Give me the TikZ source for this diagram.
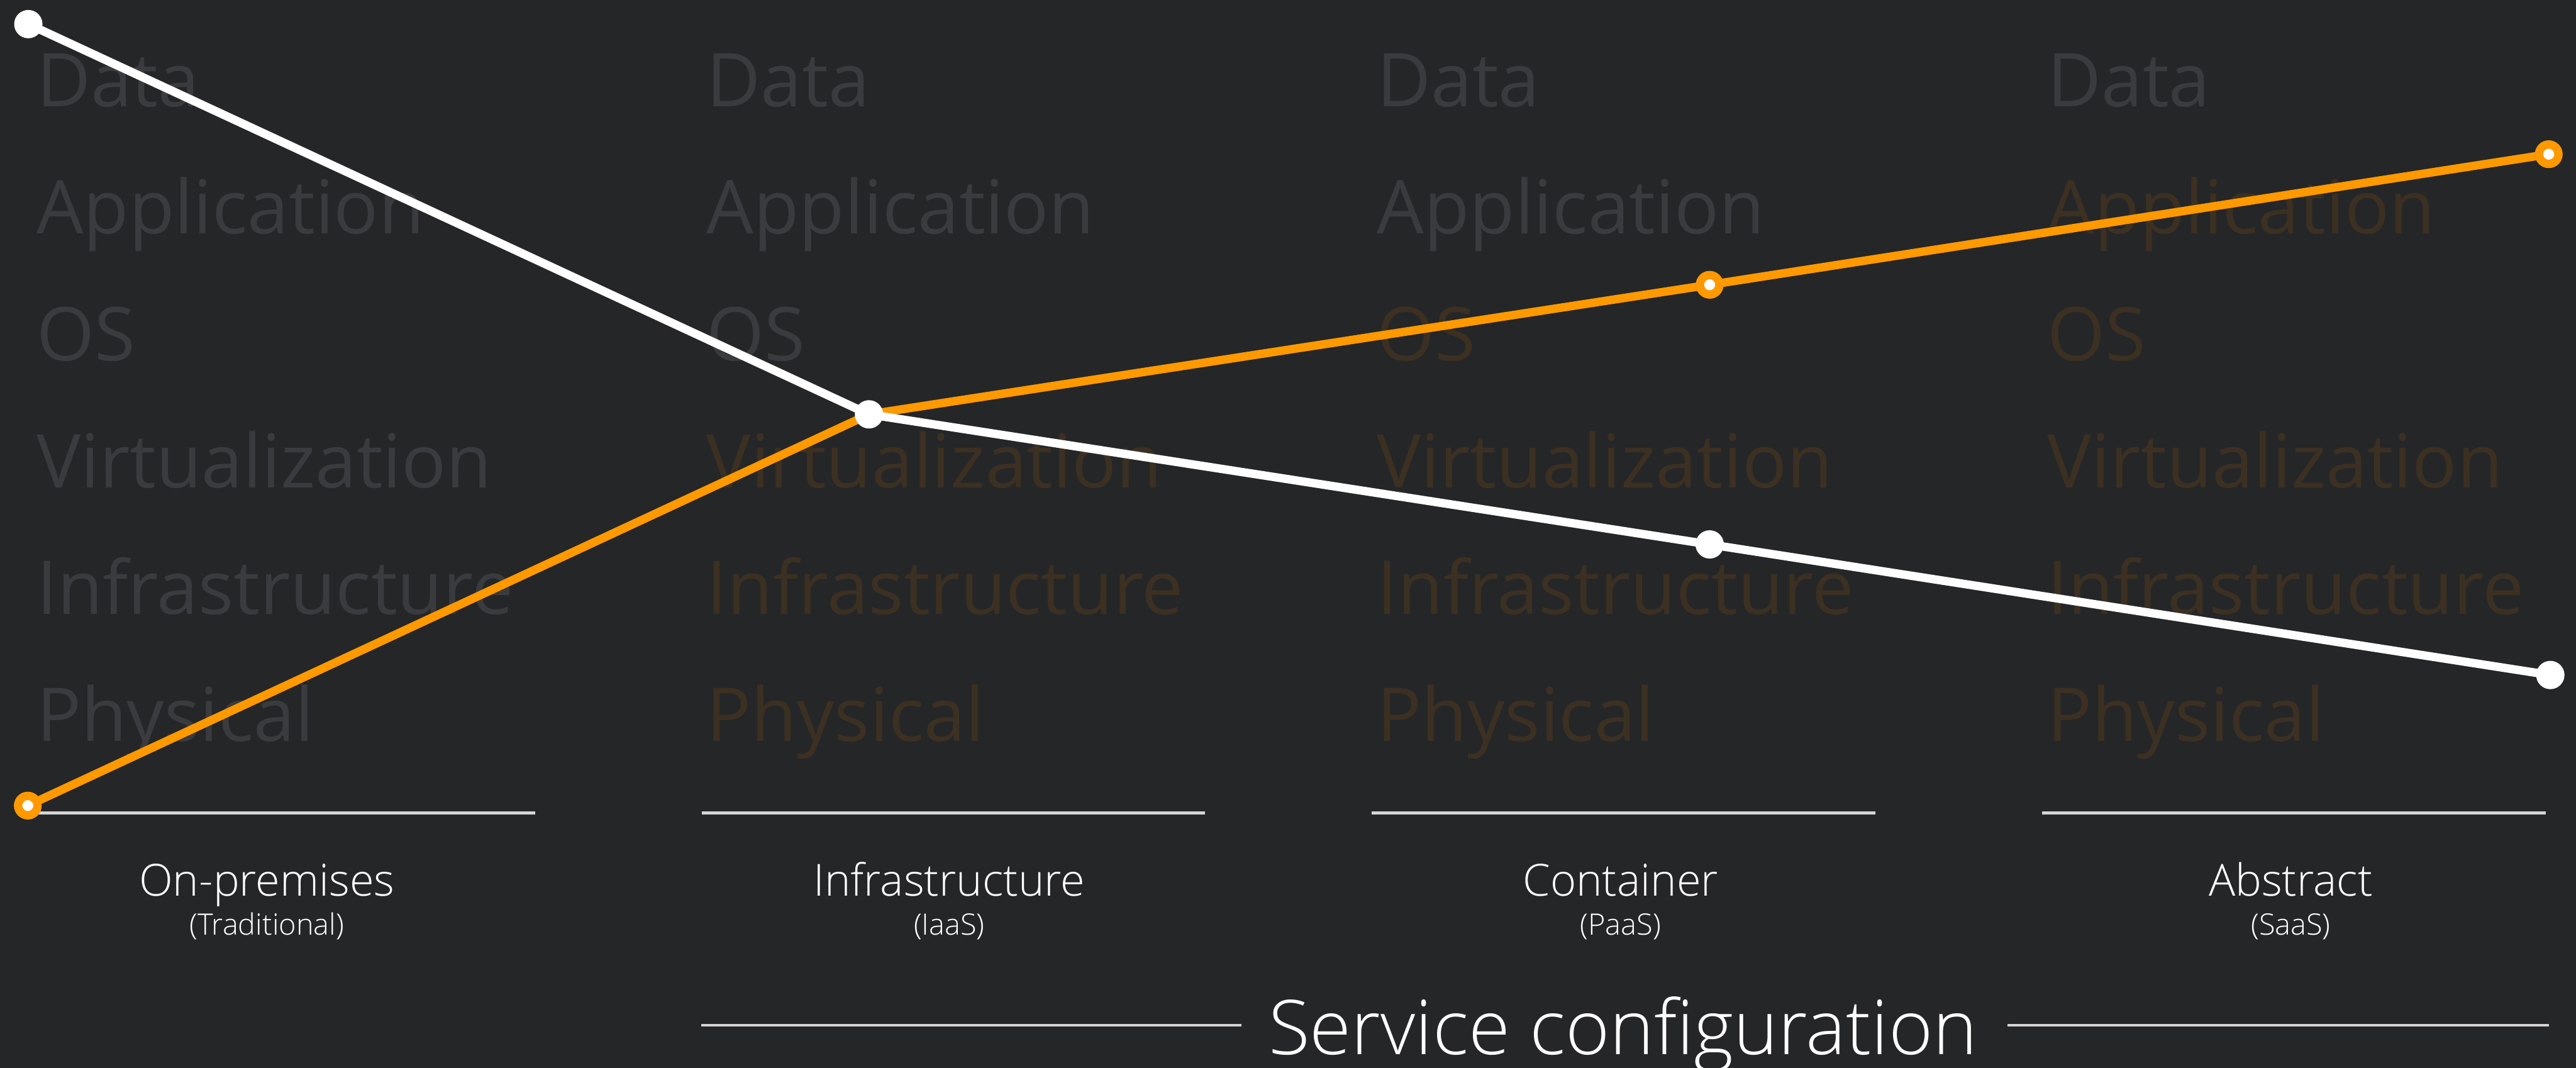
\documentclass[tikz,border=0pt]{standalone}
\usepackage{fontspec}
\setmainfont{Open Sans}
\newfontfamily\lightfont{Open Sans Light}
\usepackage{tikz}
\definecolor{colorback}  {RGB}{37 ,38 ,40 }
\definecolor{colorlayer} {RGB}{58 ,59 ,62 }
\definecolor{colorowned} {RGB}{59 ,48 ,34 }
\definecolor{colororange}{RGB}{255,153,0  }
\definecolor{colorrule}  {RGB}{213,213,213}

\begin{document}
\begin{tikzpicture}[
    layer/.style={text=colorlayer,font={\fontsize{40.3}{68.9}\selectfont},
        text width=10cm,align=left,inner sep=0pt,anchor=base west},
    model/.style={text=white,font={\lightfont\fontsize{24}{28}\selectfont},inner sep=0pt,anchor=base},
    submodel/.style={text=white,font={\lightfont\fontsize{16}{19}\selectfont},inner sep=0pt,anchor=base},
    title/.style={text=white,font={\lightfont\fontsize{41}{48}\selectfont},inner sep=0pt,anchor=base},
    rule/.style={draw=colorrule,line width=0.05cm},
    trend/.style={line width=0.16cm},
    dot/.style={circle,fill=white,inner sep=0pt,minimum size=0.54cm},
    ring/.style={circle,fill=white,draw=colororange,line width=0.16cm,inner sep=0pt,minimum size=0.37cm},
]

    \fill[colorback] (0,0) rectangle (49.12,-20.36);
    \useasboundingbox (0,0) rectangle (49.12,-20.36);

    % layer stacks
    \node[layer] (onprem stack) at (0.69,-2.03) {Data\\
    Application\\
    OS\\
    Virtualization\\
    Infrastructure\\
    Physical};
    \node[layer] (iaas stack) at (13.47,-2.03) {Data\\
    Application\\
    OS\\
    \color{colorowned}Virtualization\\
    Infrastructure\\
    Physical};
    \node[layer] (paas stack) at (26.25,-2.03) {Data\\
    Application\\
    \color{colorowned}OS\\
    Virtualization\\
    Infrastructure\\
    Physical};
    \node[layer] (saas stack) at (39.03,-2.03) {Data\\
    \color{colorowned}Application\\
    OS\\
    Virtualization\\
    Infrastructure\\
    Physical};

    \draw[rule] (0.60,-15.50) -- (10.20,-15.50);
    \draw[rule] (13.38,-15.50) -- (22.98,-15.50);
    \draw[rule] (26.16,-15.50) -- (35.76,-15.50);
    \draw[rule] (38.94,-15.50) -- (48.54,-15.50);

    \node[model] (onprem) at (5.09,-17.08) {On-premises};
    \node[submodel] (onprem sub) at (5.09,-17.83) {(Traditional)};
    \node[model] (iaas) at (18.10,-17.08) {Infrastructure};
    \node[submodel] (iaas sub) at (18.10,-17.83) {(IaaS)};
    \node[model] (paas) at (30.90,-17.08) {Container};
    \node[submodel] (paas sub) at (30.90,-17.83) {(PaaS)};
    \node[model] (saas) at (43.68,-17.08) {Abstract};
    \node[submodel] (saas sub) at (43.68,-17.83) {(SaaS)};

    \node[title] (config) at (30.95,-20.10) {Service configuration};
    \draw[rule] (13.37,-19.55) -- (23.67,-19.55);
    \draw[rule] (38.28,-19.55) -- (48.60,-19.55);

    % trend lines
    \coordinate (w1) at (0.54,-0.46);
    \coordinate (cross) at (16.57,-7.90);
    \coordinate (w3) at (32.60,-10.38);
    \coordinate (w4) at (48.63,-12.87);
    \coordinate (o1) at (0.53,-15.36);
    \coordinate (o3) at (32.60,-5.43);
    \coordinate (o4) at (48.60,-2.94);

    \draw[trend,colororange] (o1) -- (cross) -- (o3) -- (o4);
    \draw[trend,white] (w1) -- (cross) -- (w3) -- (w4);

    \node[dot] (w1 dot) at (w1) {};
    \node[dot] (w3 dot) at (w3) {};
    \node[dot] (w4 dot) at (w4) {};
    \node[ring] (o1 dot) at (o1) {};
    \node[ring] (o3 dot) at (o3) {};
    \node[ring] (o4 dot) at (o4) {};
    \node[dot] (cross dot) at (cross) {};

\end{tikzpicture}
\end{document}
